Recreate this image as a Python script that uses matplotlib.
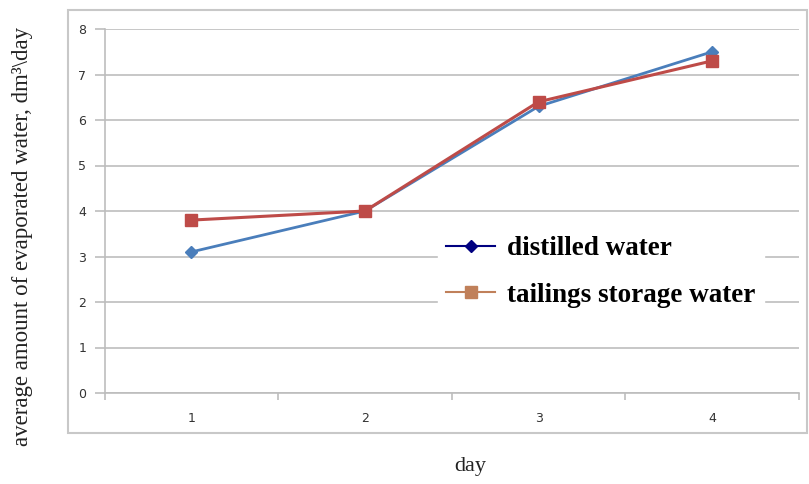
import matplotlib
matplotlib.use("Agg")
import matplotlib.pyplot as plt
from matplotlib.lines import Line2D
from matplotlib.patches import Rectangle

days = [1, 2, 3, 4]
day_labels = ["1", "2", "3", "4"]
distilled = [3.1, 4.0, 6.3, 7.5]
tailings = [3.8, 4.0, 6.4, 7.3]
y_ticks = [0, 1, 2, 3, 4, 5, 6, 7, 8]

W, H = 809, 484
fig = plt.figure(figsize=(W / 100, H / 100), dpi=100)

# outer chart frame
fig.patches.append(Rectangle((68 / W, 1 - 433 / H), (807 - 68) / W, (433 - 10) / H,
                             transform=fig.transFigure, fill=False,
                             edgecolor="#c8c8c8", linewidth=1.5, zorder=0))

ax = fig.add_axes([104.5 / W, 1 - 393 / H, (799 - 104.5) / W, (393 - 29) / H])
ax.set_xlim(0.5, 4.5)
ax.set_ylim(0, 8)

ax.plot(days, distilled, color="#4a7ebb", linewidth=2, marker="D", markersize=6,
        markerfacecolor="#4a7ebb", markeredgecolor="#4a7ebb", zorder=3)
ax.plot(days, tailings, color="#be4b48", linewidth=2.2, marker="s", markersize=8,
        markerfacecolor="#be4b48", markeredgecolor="#be4b48", zorder=3)

grid_c = "#bdbdbd"
ax.set_yticks(y_ticks)
ax.set_yticklabels([str(v) for v in y_ticks])
ax.yaxis.grid(True, color=grid_c, linewidth=1.2)
ax.set_axisbelow(True)

ax.set_xticks([0.5, 1.5, 2.5, 3.5, 4.5])
ax.set_xticklabels([])
ax.set_xticks(days, minor=True)
ax.set_xticklabels(day_labels, minor=True)
ax.tick_params(axis="x", which="major", length=5, color=grid_c, width=1.2)
ax.tick_params(axis="x", which="minor", length=0, pad=14, labelsize=9, labelcolor="#333333")
ax.tick_params(axis="y", length=7, color=grid_c, width=1.2, pad=6, labelsize=9,
               labelcolor="#333333")

for s in ["top", "right"]:
    ax.spines[s].set_visible(False)
ax.spines["left"].set_color(grid_c)
ax.spines["bottom"].set_color(grid_c)
ax.spines["left"].set_linewidth(1.2)
ax.spines["bottom"].set_linewidth(1.2)

handles = [
    Line2D([], [], color="#000080", marker="D", markersize=6, linewidth=1.5),
    Line2D([], [], color="#c0805a", marker="s", markersize=8, linewidth=1.5),
]
leg = ax.legend(handles, ["distilled water", "tailings storage water"],
                loc="upper left",
                bbox_to_anchor=((438 - 104.5) / (799 - 104.5), (393 - 228) / (393 - 29)),
                frameon=True, fancybox=False, framealpha=1, edgecolor="white",
                prop={"family": "Liberation Serif", "weight": "bold", "size": 19.5},
                handlelength=1.8, handletextpad=0.45, labelspacing=0.8, borderpad=0.3,
                borderaxespad=0)
leg.set_zorder(5)

fig.text(23 / W, 1 - 236 / H, "average amount of evaporated water, dm³\\day",
         rotation=90, ha="center", va="center", family="Liberation Serif", fontsize=16.5,
         color="#222222")
fig.text(470 / W, 1 - 467 / H, "day", ha="center", va="center",
         family="Liberation Serif", fontsize=16, color="#222222")

fig.savefig("out.png", dpi=100)
